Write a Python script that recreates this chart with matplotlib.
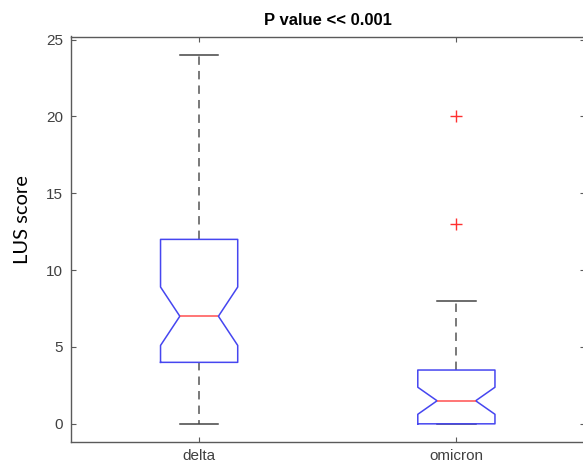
import matplotlib
matplotlib.use("Agg")
import matplotlib.pyplot as plt

# ---- data ----
groups = ["delta", "omicron"]
q1 = [4.0, 0.0]
medians = [7.0, 1.5]
q3 = [12.0, 3.5]
whisker_low = [0.0, 0.0]
whisker_high = [24.0, 8.0]
notch_low = [5.1, 0.62]
notch_high = [8.9, 2.38]
outliers = [[], [13.0, 20.0]]
y_ticks = [0, 5, 10, 15, 20, 25]
title = "P value << 0.001"
ylabel = "LUS score"

stats = []
for i, g in enumerate(groups):
    stats.append(dict(label=g, q1=q1[i], med=medians[i], q3=q3[i],
                      whislo=whisker_low[i], whishi=whisker_high[i],
                      cilo=notch_low[i], cihi=notch_high[i],
                      fliers=outliers[i]))

W, H = 583, 467
fig = plt.figure(figsize=(W / 100, H / 100), dpi=100)
ax = fig.add_axes([70.5 / W, (H - 441.5) / H, (585 - 70.5) / W, 405 / H])

ax.bxp(stats, positions=[1, 2], widths=0.3, shownotches=True,
       boxprops=dict(color="#4646f0", linewidth=1.1, zorder=4),
       medianprops=dict(color="#ff5050", linewidth=1.1, zorder=5),
       whiskerprops=dict(color="#555555", linewidth=1.1, linestyle=(0, (5.5, 4)),
                         zorder=2),
       capprops=dict(color="#444444", linewidth=1.1, zorder=2),
       flierprops=dict(marker="+", markeredgecolor="#ff3030", markersize=8,
                       markeredgewidth=1.0, linestyle="none"))

ax.set_xlim(0.5, 2.5)
ax.set_ylim(-1.15, 25.2)
ax.set_yticks(y_ticks)
ax.set_xticks([1, 2])
ax.set_xticklabels(groups)

for s in ax.spines.values():
    s.set_color("#5a5a5a")
    s.set_linewidth(1.0)

ax.tick_params(direction="in", length=3.5, width=0.8, color="#5a5a5a",
               top=True, right=True, labelsize=11, labelcolor="#404040",
               pad=5.5)
for lab in ax.get_xticklabels() + ax.get_yticklabels():
    lab.set_family(["Liberation Sans", "DejaVu Sans"])

ax.set_title(title, fontsize=12, fontweight="bold",
             family=["Liberation Sans", "DejaVu Sans"], pad=8)
ax.set_ylabel(ylabel, fontsize=14.5, family=["Lato", "DejaVu Sans"],
              va="center", color="black")
ax.yaxis.set_label_coords((23 - 70.5) / 514.5, (441.5 - 220) / 405)

fig.savefig("out.png", dpi=100, facecolor="white")
